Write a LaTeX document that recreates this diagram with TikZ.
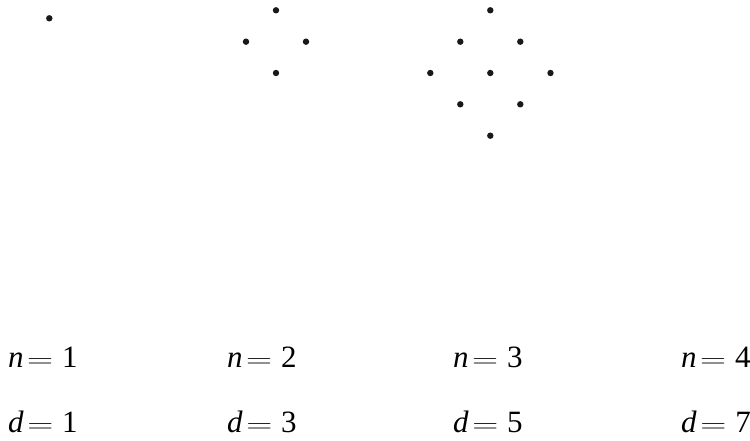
\documentclass[tikz,border=0pt]{standalone}
\usepackage{fontspec}
\usepackage{graphicx}
\setmainfont{Liberation Serif}
\tikzset{
  dot/.style={circle,fill=black!90,inner sep=0pt,minimum size=6.4pt},
  lbl/.style={anchor=base west,inner sep=0pt,font=\fontsize{31}{36}\selectfont}
}
\newcommand{\eqlbl}[2]{\textit{#1}\hspace{3.5pt}\scalebox{1.45}[1]{$=$}\hspace{9pt}#2}
\begin{document}
\begin{tikzpicture}[x=1pt,y=-1pt]
\useasboundingbox (0,0) rectangle (750,441);
% n = 1
\node[dot] (a1) at (49.3,18.3) {};
% n = 2
\node[dot] (b1) at (276,10.3) {};
\node[dot] (b2) at (246,41.7) {};
\node[dot] (b3) at (306,41.7) {};
\node[dot] (b4) at (276,73) {};
% n = 3
\node[dot] (c1) at (490.3,10.3) {};
\node[dot] (c2) at (460.3,41.7) {};
\node[dot] (c3) at (520.3,41.7) {};
\node[dot] (c4) at (430.3,73) {};
\node[dot] (c5) at (490.3,73) {};
\node[dot] (c6) at (550.5,73) {};
\node[dot] (c7) at (460.3,104.3) {};
\node[dot] (c8) at (520.3,104.3) {};
\node[dot] (c9) at (490.3,135.7) {};
% labels
\node[lbl] (n1) at (8,367) {\eqlbl{n}{1}};
\node[lbl] (n2) at (227,367) {\eqlbl{n}{2}};
\node[lbl] (n3) at (453,367) {\eqlbl{n}{3}};
\node[lbl] (n4) at (681,367) {\eqlbl{n}{4}};
\node[lbl] (d1) at (8,432) {\eqlbl{d}{1}};
\node[lbl] (d2) at (227,432) {\eqlbl{d}{3}};
\node[lbl] (d3) at (453,432) {\eqlbl{d}{5}};
\node[lbl] (d4) at (681,432) {\eqlbl{d}{7}};
\end{tikzpicture}
\end{document}
